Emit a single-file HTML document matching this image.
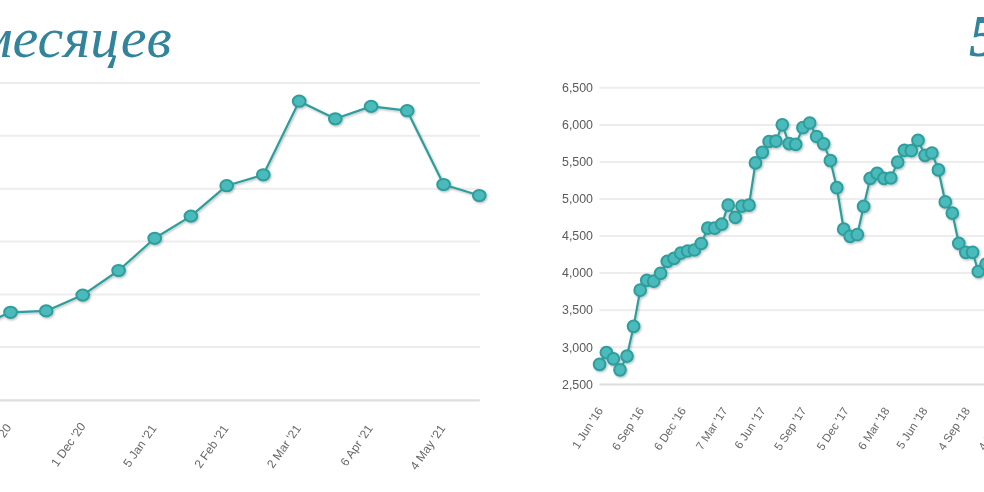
<!DOCTYPE html>
<html lang="ru"><head><meta charset="utf-8"><title>chart</title>
<style>
html,body{margin:0;padding:0;background:#fff;}
body{width:984px;height:492px;overflow:hidden;position:relative;font-family:"Liberation Sans",sans-serif;}
.title{position:absolute;font-family:"Liberation Serif",serif;font-style:italic;font-size:58px;line-height:1;color:#31849b;white-space:nowrap;}
svg{position:absolute;left:0;top:0;}
.grid line{stroke:#ededed;stroke-width:2;}
.ylab text{font-size:12.4px;fill:#5a5a5a;text-anchor:end;}
.xl text{font-size:12px;fill:#666;text-anchor:end;}
.xr text{font-size:11.6px;fill:#666;text-anchor:end;}
.ser path{fill:none;stroke:#2e9d9d;stroke-width:2.2;stroke-linejoin:round;stroke-linecap:round;}
.ser ellipse,.ser circle{fill:#4bbaba;stroke:#2e9d9d;stroke-width:2;}
</style></head><body>

<div class="title" style="left:-24.4px;top:9px;">месяцев</div>
<div class="title" style="left:969px;top:6.3px;font-size:60px;font-weight:bold;">5</div>
<svg width="984" height="492" viewBox="0 0 984 492">
<defs><filter id="sh" x="-5%" y="-5%" width="110%" height="115%"><feDropShadow dx="1" dy="1.2" stdDeviation="0.9" flood-color="#000" flood-opacity="0.28"/></filter></defs>
<g class="grid">
<line x1="0" x2="479.8" y1="83.0" y2="83.0"/>
<line x1="0" x2="479.8" y1="135.8" y2="135.8"/>
<line x1="0" x2="479.8" y1="188.7" y2="188.7"/>
<line x1="0" x2="479.8" y1="241.4" y2="241.4"/>
<line x1="0" x2="479.8" y1="294.4" y2="294.4"/>
<line x1="0" x2="479.8" y1="347.1" y2="347.1"/>
<line x1="0" x2="479.8" y1="400.4" y2="400.4" style="stroke:#dedede;stroke-width:2.4"/>
<line x1="599.5" x2="984" y1="87.8" y2="87.8"/>
<line x1="599.5" x2="984" y1="124.9" y2="124.9"/>
<line x1="599.5" x2="984" y1="161.9" y2="161.9"/>
<line x1="599.5" x2="984" y1="199.0" y2="199.0"/>
<line x1="599.5" x2="984" y1="236.1" y2="236.1"/>
<line x1="599.5" x2="984" y1="273.1" y2="273.1"/>
<line x1="599.5" x2="984" y1="310.2" y2="310.2"/>
<line x1="599.5" x2="984" y1="347.3" y2="347.3"/>
<line x1="599.5" x2="984" y1="384.4" y2="384.4" style="stroke:#dcdcdc"/>
</g>
<g class="ylab">
<text x="593" y="92.0">6,500</text>
<text x="593" y="129.1">6,000</text>
<text x="593" y="166.1">5,500</text>
<text x="593" y="203.2">5,000</text>
<text x="593" y="240.3">4,500</text>
<text x="593" y="277.3">4,000</text>
<text x="593" y="314.4">3,500</text>
<text x="593" y="351.5">3,000</text>
<text x="593" y="388.6">2,500</text>
</g>
<g class="xl">
<text transform="translate(11.8 427.5) rotate(-55)">3 Nov '20</text>
<text transform="translate(86.2 426.2) rotate(-55)">1 Dec '20</text>
<text transform="translate(157.0 428.4) rotate(-55)">5 Jan '21</text>
<text transform="translate(229.0 428.4) rotate(-55)">2 Feb '21</text>
<text transform="translate(301.5 428.4) rotate(-55)">2 Mar '21</text>
<text transform="translate(373.4 428.4) rotate(-55)">6 Apr '21</text>
<text transform="translate(445.9 428.4) rotate(-55)">4 May '21</text>
</g><g class="xr">
<text transform="translate(603.6 410.5) rotate(-57)">1 Jun '16</text>
<text transform="translate(644.5 410.5) rotate(-57)">6 Sep '16</text>
<text transform="translate(686.6 410.5) rotate(-57)">6 Dec '16</text>
<text transform="translate(728.1 410.5) rotate(-57)">7 Mar '17</text>
<text transform="translate(766.0 410.5) rotate(-57)">6 Jun '17</text>
<text transform="translate(806.8 410.5) rotate(-57)">5 Sep '17</text>
<text transform="translate(849.3 410.5) rotate(-57)">5 Dec '17</text>
<text transform="translate(890.1 410.5) rotate(-57)">6 Mar '18</text>
<text transform="translate(927.9 410.5) rotate(-57)">5 Jun '18</text>
<text transform="translate(970.4 410.5) rotate(-57)">4 Sep '18</text>
<text transform="translate(1011.0 410.5) rotate(-57)">4 Dec '18</text>
</g>
<g class="ser" filter="url(#sh)">
<path d="M-25.6 328.0 L10.5 312.3 L46.2 310.9 L82.7 295.1 L118.6 270.5 L154.7 238.3 L190.9 216.1 L226.7 185.7 L263.3 174.8 L299.2 101.2 L335.3 118.8 L371.1 106.4 L407.2 110.7 L443.6 184.5 L479.3 195.5"/>
<ellipse cx="-25.6" cy="328.0" rx="6.35" ry="5.6"/>
<ellipse cx="10.5" cy="312.3" rx="6.35" ry="5.6"/>
<ellipse cx="46.2" cy="310.9" rx="6.35" ry="5.6"/>
<ellipse cx="82.7" cy="295.1" rx="6.35" ry="5.6"/>
<ellipse cx="118.6" cy="270.5" rx="6.35" ry="5.6"/>
<ellipse cx="154.7" cy="238.3" rx="6.35" ry="5.6"/>
<ellipse cx="190.9" cy="216.1" rx="6.35" ry="5.6"/>
<ellipse cx="226.7" cy="185.7" rx="6.35" ry="5.6"/>
<ellipse cx="263.3" cy="174.8" rx="6.35" ry="5.6"/>
<ellipse cx="299.2" cy="101.2" rx="6.35" ry="5.6"/>
<ellipse cx="335.3" cy="118.8" rx="6.35" ry="5.6"/>
<ellipse cx="371.1" cy="106.4" rx="6.35" ry="5.6"/>
<ellipse cx="407.2" cy="110.7" rx="6.35" ry="5.6"/>
<ellipse cx="443.6" cy="184.5" rx="6.35" ry="5.6"/>
<ellipse cx="479.3" cy="195.5" rx="6.35" ry="5.6"/>
</g><g class="ser" filter="url(#sh)">
<path d="M599.6 364.3 L606.4 352.6 L613.4 358.8 L620.0 369.8 L627.0 356.1 L633.6 326.4 L640.2 290.2 L646.8 280.4 L653.7 281.2 L660.6 273.3 L667.3 261.4 L674.0 258.4 L680.8 253.2 L687.6 251.0 L694.4 250.0 L701.2 243.5 L707.8 228.2 L714.7 228.2 L721.8 224.2 L728.2 205.2 L735.3 217.4 L742.0 206.1 L749.0 205.2 L755.5 162.9 L762.3 152.3 L769.1 141.5 L775.9 141.2 L782.3 124.8 L789.1 143.6 L795.7 144.4 L802.9 127.7 L809.7 123.0 L816.6 136.5 L823.6 143.8 L830.4 160.6 L836.8 187.7 L843.7 229.2 L850.1 236.3 L857.3 234.7 L863.6 206.4 L870.2 178.4 L877.1 173.4 L883.9 178.4 L890.8 178.0 L897.7 162.1 L904.4 150.3 L911.3 150.7 L918.0 140.4 L925.0 155.3 L931.9 153.0 L938.4 169.9 L945.3 201.9 L952.3 213.1 L958.8 243.4 L965.8 252.3 L972.6 252.3 L978.3 271.5 L986.0 264.0"/>
<circle cx="599.6" cy="364.3" r="5.85"/>
<circle cx="606.4" cy="352.6" r="5.85"/>
<circle cx="613.4" cy="358.8" r="5.85"/>
<circle cx="620.0" cy="369.8" r="5.85"/>
<circle cx="627.0" cy="356.1" r="5.85"/>
<circle cx="633.6" cy="326.4" r="5.85"/>
<circle cx="640.2" cy="290.2" r="5.85"/>
<circle cx="646.8" cy="280.4" r="5.85"/>
<circle cx="653.7" cy="281.2" r="5.85"/>
<circle cx="660.6" cy="273.3" r="5.85"/>
<circle cx="667.3" cy="261.4" r="5.85"/>
<circle cx="674.0" cy="258.4" r="5.85"/>
<circle cx="680.8" cy="253.2" r="5.85"/>
<circle cx="687.6" cy="251.0" r="5.85"/>
<circle cx="694.4" cy="250.0" r="5.85"/>
<circle cx="701.2" cy="243.5" r="5.85"/>
<circle cx="707.8" cy="228.2" r="5.85"/>
<circle cx="714.7" cy="228.2" r="5.85"/>
<circle cx="721.8" cy="224.2" r="5.85"/>
<circle cx="728.2" cy="205.2" r="5.85"/>
<circle cx="735.3" cy="217.4" r="5.85"/>
<circle cx="742.0" cy="206.1" r="5.85"/>
<circle cx="749.0" cy="205.2" r="5.85"/>
<circle cx="755.5" cy="162.9" r="5.85"/>
<circle cx="762.3" cy="152.3" r="5.85"/>
<circle cx="769.1" cy="141.5" r="5.85"/>
<circle cx="775.9" cy="141.2" r="5.85"/>
<circle cx="782.3" cy="124.8" r="5.85"/>
<circle cx="789.1" cy="143.6" r="5.85"/>
<circle cx="795.7" cy="144.4" r="5.85"/>
<circle cx="802.9" cy="127.7" r="5.85"/>
<circle cx="809.7" cy="123.0" r="5.85"/>
<circle cx="816.6" cy="136.5" r="5.85"/>
<circle cx="823.6" cy="143.8" r="5.85"/>
<circle cx="830.4" cy="160.6" r="5.85"/>
<circle cx="836.8" cy="187.7" r="5.85"/>
<circle cx="843.7" cy="229.2" r="5.85"/>
<circle cx="850.1" cy="236.3" r="5.85"/>
<circle cx="857.3" cy="234.7" r="5.85"/>
<circle cx="863.6" cy="206.4" r="5.85"/>
<circle cx="870.2" cy="178.4" r="5.85"/>
<circle cx="877.1" cy="173.4" r="5.85"/>
<circle cx="883.9" cy="178.4" r="5.85"/>
<circle cx="890.8" cy="178.0" r="5.85"/>
<circle cx="897.7" cy="162.1" r="5.85"/>
<circle cx="904.4" cy="150.3" r="5.85"/>
<circle cx="911.3" cy="150.7" r="5.85"/>
<circle cx="918.0" cy="140.4" r="5.85"/>
<circle cx="925.0" cy="155.3" r="5.85"/>
<circle cx="931.9" cy="153.0" r="5.85"/>
<circle cx="938.4" cy="169.9" r="5.85"/>
<circle cx="945.3" cy="201.9" r="5.85"/>
<circle cx="952.3" cy="213.1" r="5.85"/>
<circle cx="958.8" cy="243.4" r="5.85"/>
<circle cx="965.8" cy="252.3" r="5.85"/>
<circle cx="972.6" cy="252.3" r="5.85"/>
<circle cx="978.3" cy="271.5" r="5.85"/>
<circle cx="986.0" cy="264.0" r="5.85"/>
</g></svg></body></html>
